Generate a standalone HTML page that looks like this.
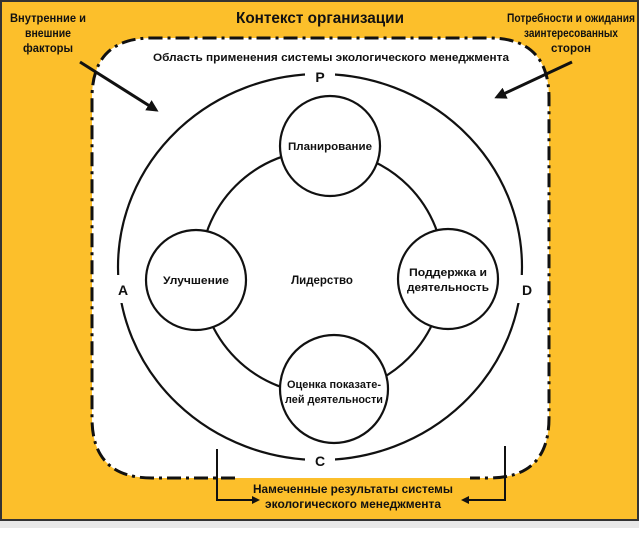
<!DOCTYPE html>
<html><head><meta charset="utf-8"><style>
body{margin:0;width:639px;height:528px;overflow:hidden;background:#fff}
svg text{font-family:"Liberation Sans",Arial,sans-serif;font-weight:bold;fill:#111}
</style></head><body>
<svg width="639" height="528" viewBox="0 0 639 528" xmlns="http://www.w3.org/2000/svg">
<defs><marker id="ah" markerWidth="8" markerHeight="8" refX="6" refY="4" orient="auto" markerUnits="userSpaceOnUse"><path d="M0,0 L8,4 L0,8 z" fill="#111"/></marker>
<marker id="ah2" markerWidth="12" markerHeight="12" refX="9" refY="6" orient="auto" markerUnits="userSpaceOnUse"><path d="M0,0 L12,6 L0,12 z" fill="#111"/></marker></defs>
<rect x="1" y="1" width="637" height="519" fill="#FCBF2B" stroke="#333" stroke-width="2"/>
<rect x="0" y="521" width="639" height="7" fill="#e8e8e8"/>
<path d="M152,478 Q92,478 92,418 L92,98 Q92,38 152,38 L489,38 Q549,38 549,98 L549,418 Q549,478 489,478 Z" fill="#fff"/>
<path d="M235,478 L152,478 Q92,478 92,418 L92,98 Q92,38 152,38 L489,38 Q549,38 549,98 L549,418 Q549,478 489,478 L470,478" fill="none" stroke="#111" stroke-width="3" stroke-dasharray="14,5,3,5"/>
<text x="320" y="23" font-size="16" text-anchor="middle" textLength="168" lengthAdjust="spacingAndGlyphs">Контекст организации</text>
<text x="48" y="22" font-size="11.5" text-anchor="middle" textLength="76" lengthAdjust="spacingAndGlyphs">Внутренние и</text>
<text x="48" y="37" font-size="11.5" text-anchor="middle" textLength="46" lengthAdjust="spacingAndGlyphs">внешние</text>
<text x="48" y="52" font-size="11.5" text-anchor="middle" textLength="50" lengthAdjust="spacingAndGlyphs">факторы</text>
<text x="571" y="22" font-size="11.5" text-anchor="middle" textLength="128" lengthAdjust="spacingAndGlyphs">Потребности и ожидания</text>
<text x="571" y="37" font-size="11.5" text-anchor="middle" textLength="94" lengthAdjust="spacingAndGlyphs">заинтересованных</text>
<text x="571" y="52" font-size="11.5" text-anchor="middle" textLength="40" lengthAdjust="spacingAndGlyphs">сторон</text>
<text x="331" y="61" font-size="11" text-anchor="middle" textLength="356" lengthAdjust="spacingAndGlyphs">Область применения системы экологического менеджмента</text>
<line x1="80" y1="62" x2="156" y2="110" stroke="#111" stroke-width="3" marker-end="url(#ah2)"/>
<line x1="572" y1="62" x2="497" y2="97" stroke="#111" stroke-width="3" marker-end="url(#ah2)"/>
<ellipse cx="320" cy="267" rx="202" ry="193" fill="none" stroke="#111" stroke-width="2.2"/>
<rect x="305" y="66" width="30" height="20" fill="#fff"/>
<rect x="305" y="450" width="30" height="20" fill="#fff"/>
<rect x="110" y="275" width="20" height="28" fill="#fff"/>
<rect x="512" y="275" width="22" height="28" fill="#fff"/>
<text x="320" y="82" font-size="14" text-anchor="middle">P</text>
<text x="320" y="466" font-size="14" text-anchor="middle">C</text>
<text x="123" y="295" font-size="14" text-anchor="middle">A</text>
<text x="527" y="295" font-size="14" text-anchor="middle">D</text>
<circle cx="322" cy="272" r="122" fill="#fff" stroke="#111" stroke-width="2.2"/>
<text x="322" y="284" font-size="11.5" text-anchor="middle">Лидерство</text>
<circle cx="330" cy="146" r="50" fill="#fff" stroke="#111" stroke-width="2.2"/>
<text x="330" y="150" font-size="11" text-anchor="middle" textLength="84" lengthAdjust="spacingAndGlyphs">Планирование</text>
<circle cx="196" cy="280" r="50" fill="#fff" stroke="#111" stroke-width="2.2"/>
<text x="196" y="284" font-size="11" text-anchor="middle" textLength="66" lengthAdjust="spacingAndGlyphs">Улучшение</text>
<circle cx="448" cy="279" r="50" fill="#fff" stroke="#111" stroke-width="2.2"/>
<text x="448" y="276" font-size="11" text-anchor="middle" textLength="78" lengthAdjust="spacingAndGlyphs">Поддержка и</text>
<text x="448" y="291" font-size="11" text-anchor="middle" textLength="82" lengthAdjust="spacingAndGlyphs">деятельность</text>
<circle cx="334" cy="389" r="54" fill="#fff" stroke="#111" stroke-width="2.2"/>
<text x="334" y="388" font-size="11" text-anchor="middle" textLength="94" lengthAdjust="spacingAndGlyphs">Оценка показате-</text>
<text x="334" y="403" font-size="11" text-anchor="middle" textLength="98" lengthAdjust="spacingAndGlyphs">лей деятельности</text>
<text x="353" y="493" font-size="11.5" text-anchor="middle" textLength="200" lengthAdjust="spacingAndGlyphs">Намеченные результаты системы</text>
<text x="353" y="508" font-size="11.5" text-anchor="middle" textLength="176" lengthAdjust="spacingAndGlyphs">экологического менеджмента</text>
<polyline points="217,449 217,500 258,500" fill="none" stroke="#111" stroke-width="2" marker-end="url(#ah)"/>
<polyline points="505,446 505,500 463,500" fill="none" stroke="#111" stroke-width="2" marker-end="url(#ah)"/>
</svg>
</body></html>
